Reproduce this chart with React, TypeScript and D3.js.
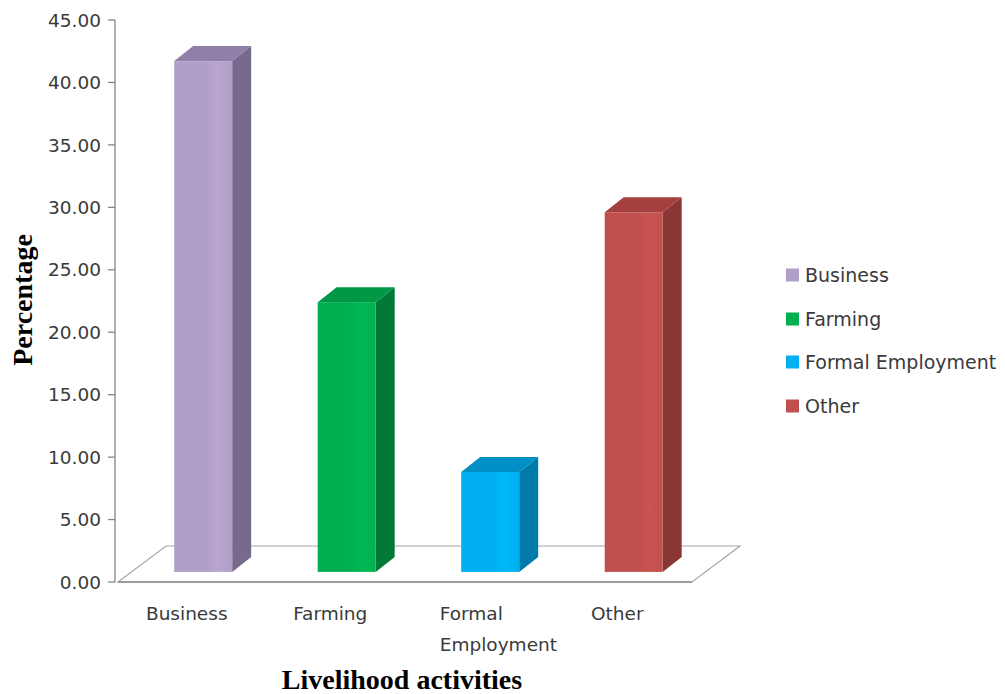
import React from "react";
import * as d3 from "d3";

const categories: string[] = ["Business", "Farming", "Formal Employment", "Other"];
const values: number[] = [40.9, 21.6, 8.0, 28.8];
const yTickValues: number[] = [0, 5, 10, 15, 20, 25, 30, 35, 40, 45];
const frontColors: string[] = ["#b09fc8", "#00b050", "#00b0f0", "#c0504d"];
const sideColors: string[] = ["#786a8e", "#007a36", "#007aa8", "#8a3634"];
const topColors: string[] = ["#8f80aa", "#009845", "#0090c6", "#a4413e"];
const categoryLabelLines: string[][] = [["Business"], ["Farming"], ["Formal", "Employment"], ["Other"]];

const W = 1005;
const H = 694;
const tickFont = "'DejaVu Sans', sans-serif";
const titleFont = "'Liberation Serif', 'Times New Roman', serif";

export default function App() {
  const y = d3.scaleLinear().domain([0, 45]).range([582, 20]);
  const x = d3.scaleBand<string>().domain(categories).range([118, 692]);
  const floorDx = 48;
  const floorDy = -36;
  const barFrac = 0.28;
  const barDx = 19;
  const barDy = -15;
  const bw = x.bandwidth();
  const barW = bw * 0.404;
  const y0 = y(0);
  const baseY = y0 + floorDy * barFrac;

  const floorPts = [
    [118, y0],
    [118 + floorDx, y0 + floorDy],
    [692 + floorDx, y0 + floorDy],
    [692, y0],
  ]
    .map((p) => p.join(","))
    .join(" ");

  const legendY = [275, 319, 362, 406];

  return (
    <svg
      width={W}
      height={H}
      style={{ position: "absolute", left: 0, top: 0, background: "#fff" }}
    >
      <defs>
        {categories.map((c, i) => {
          const base = d3.color(frontColors[i])!;
          const light = d3.color(frontColors[i])!.brighter(0.12);
          return (
            <linearGradient key={c} id={`fg${i}`} x1="0" x2="1" y1="0" y2="0">
              <stop offset="0%" stopColor={base.formatHex()} />
              <stop offset="55%" stopColor={base.formatHex()} />
              <stop offset="75%" stopColor={light.formatHex()} />
              <stop offset="100%" stopColor={base.formatHex()} />
            </linearGradient>
          );
        })}
      </defs>

      {/* floor */}
      <polygon points={floorPts} fill="#fff" stroke="#a6a6a6" strokeWidth={1.2} />
      <line x1={118} x2={692} y1={y0} y2={y0} stroke="#8c8c8c" strokeWidth={1.6} />

      {/* bars */}
      {categories.map((c, i) => {
        const left = (x(c) as number) + bw / 2 - barW / 2 + floorDx * barFrac;
        const right = left + barW;
        const topY = y(values[i]) + floorDy * barFrac;
        const side = [
          [right, topY],
          [right + barDx, topY + barDy],
          [right + barDx, baseY + barDy],
          [right, baseY],
        ]
          .map((p) => p.join(","))
          .join(" ");
        const top = [
          [left, topY],
          [left + barDx, topY + barDy],
          [right + barDx, topY + barDy],
          [right, topY],
        ]
          .map((p) => p.join(","))
          .join(" ");
        return (
          <g key={c}>
            <polygon points={side} fill={sideColors[i]} />
            <polygon points={top} fill={topColors[i]} />
            <rect x={left} y={topY} width={barW} height={baseY - topY} fill={`url(#fg${i})`} />
          </g>
        );
      })}

      {/* y axis */}
      <line x1={115} x2={115} y1={y(45)} y2={y0} stroke="#868686" strokeWidth={1.3} />
      {yTickValues.map((t) => (
        <g key={t}>
          <line x1={108} x2={115} y1={y(t)} y2={y(t)} stroke="#868686" strokeWidth={1.3} />
          <text
            x={101}
            y={y(t)}
            dy="0.36em"
            textAnchor="end"
            fontFamily={tickFont}
            fontSize={18.5}
            fill="#3a3a3a"
          >
            {t.toFixed(2)}
          </text>
        </g>
      ))}

      {/* category labels */}
      {categories.map((c, i) => {
        const cx = (x(c) as number) + bw / 2 - 3;
        const lines = categoryLabelLines[i];
        if (lines.length > 1) {
          return (
            <text key={c} fontFamily={tickFont} fontSize={18.5} fill="#3a3a3a" textAnchor="start">
              {lines.map((l, k) => (
                <tspan key={k} x={cx - 34} y={620 + k * 31}>
                  {l}
                </tspan>
              ))}
            </text>
          );
        }
        return (
          <text key={c} x={cx} y={620} textAnchor="middle" fontFamily={tickFont} fontSize={18.5} fill="#3a3a3a">
            {lines[0]}
          </text>
        );
      })}

      {/* axis titles */}
      <text
        transform="translate(32,300) rotate(-90)"
        textAnchor="middle"
        fontFamily={titleFont}
        fontWeight="bold"
        fontSize={28}
        fill="#000"
      >
        Percentage
      </text>
      <text
        x={402}
        y={689}
        textAnchor="middle"
        fontFamily={titleFont}
        fontWeight="bold"
        fontSize={28}
        fill="#000"
      >
        Livelihood activities
      </text>

      {/* legend */}
      {categories.map((c, i) => (
        <g key={c}>
          <rect x={786} y={legendY[i] - 6.5} width={13} height={13} fill={frontColors[i]} />
          <text
            x={805}
            y={legendY[i]}
            dy="0.36em"
            fontFamily={tickFont}
            fontSize={19}
            fill="#3a3a3a"
          >
            {c}
          </text>
        </g>
      ))}
    </svg>
  );
}
